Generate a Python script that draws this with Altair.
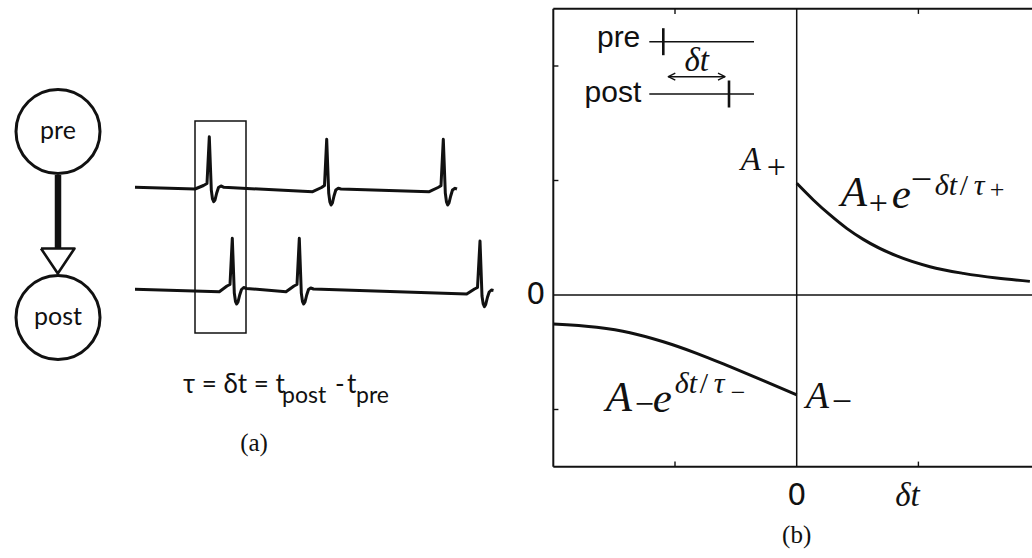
import altair as alt
import pandas as pd

W, H = 1032, 558
SERIF = "Liberation Serif"
SANS = "Liberation Sans"
HUMANIST = "Lato"
INK = "#111111"

# ---------------- panel (b): STDP learning window (plot units) ----------------
ltp_dt = [0.0, 0.137, 0.274, 0.411, 0.547, 0.822, 1.095, 1.369, 1.643, 1.916]
ltp_dw = [0.976, 0.830, 0.699, 0.582, 0.486, 0.341, 0.247, 0.189, 0.148, 0.119]
ltd_dt = [-2.0, -1.643, -1.370, -1.096, -0.822, -0.548, -0.274, 0.0]
ltd_dw = [-0.253, -0.282, -0.329, -0.408, -0.509, -0.626, -0.748, -0.873]
A_PLUS = ltp_dw[0]
A_MINUS = ltd_dw[-1]
x_lim = [-2.0, 2.0]
y_lim = [-1.5, 2.5]
x_ticks = [-1.0, 1.0]
y_ticks = [-1.0, 1.0, 2.0]

# ---------------- panel (a) schematic and inset (canvas units) ----------------
neuron_labels = ["pre", "post"]
neuron_cx = [58.0, 58.0]
neuron_cy = [131.5, 317.5]
synapse_shaft = [175.0, 248.5]           # y extent of the axon line
synapse_head_x = [41.0, 74.5, 57.8, 41.0]  # open arrow head outline
synapse_head_y = [248.5, 248.5, 273.5, 248.5]

pre_trace_x = [135, 195, 203.5, 207, 209.3, 211.3, 212.5, 213.7, 215, 216.7, 218.5, 221, 224,
               312.7, 321.5, 324.5, 326.7, 328.7, 329.9, 331.1, 332.4, 334, 335.8, 338.3, 341,
               429.3, 438, 441, 443.3, 445.3, 446.5, 447.7, 449, 450.7, 452.5, 455, 457]
pre_trace_y = [187.3, 189, 185.5, 183.5, 136.7, 190, 199, 201.7, 200, 193, 187.5, 186, 187.3,
               191.7, 187.5, 185.5, 139.3, 193, 202, 205, 203, 196, 190, 188.3, 189,
               191.7, 187.5, 185.8, 139.3, 193, 202, 205, 203, 196, 190, 188.3, 189]
post_trace_x = [135, 219.3, 227, 230, 232.3, 234.3, 235.5, 236.7, 238, 239.7, 241.5, 243.7, 246.5,
                286, 294, 297, 299.3, 301.3, 302.5, 303.7, 305, 306.7, 308.5, 310.7, 313.5,
                466.7, 474.5, 477.5, 480, 482, 483.2, 484.4, 485.7, 487.4, 489.2, 491.4, 493.5]
post_trace_y = [289.3, 291.7, 286, 284.5, 238.3, 293, 301.5, 304, 302, 295, 289.5, 287.5, 288.5,
                291.7, 286, 284.5, 238.3, 293, 301.5, 304, 302, 295, 289.5, 288, 289,
                294, 289, 287.5, 241, 296, 304, 306.7, 304.5, 297.5, 292, 290, 290.5]
window_box = [195.0, 121.0, 246.0, 333.0]   # x0, y0, x1, y1

inset_train_y = [41.7, 94.0]
inset_train_x = [649.3, 754.0]
inset_spike_x = [663.3, 729.0]
inset_spike_half = 13.5
inset_arrow_y = 76.7

# ---------------- scales ----------------
CX = alt.Scale(domain=[0, W], range=[0, W], nice=False, zero=False)
CY = alt.Scale(domain=[0, H], range=[0, H], nice=False, zero=False)
PX = alt.Scale(domain=x_lim, range=[553.3, 1040.1], nice=False, zero=False)
PY = alt.Scale(domain=y_lim, range=[466.75, 8.75], nice=False, zero=False)


def xy(sx, sy, x="x", y="y"):
    return dict(x=alt.X(f"{x}:Q", scale=sx, axis=None),
                y=alt.Y(f"{y}:Q", scale=sy, axis=None))


def polyline(xs, ys, sx, sy, width, **kw):
    df = pd.DataFrame({"x": xs, "y": ys, "i": list(range(len(xs)))})
    return alt.Chart(df).mark_line(color=INK, strokeWidth=width, strokeJoin="round", **kw).encode(
        order="i:Q", **xy(sx, sy))


def segments(x, y, x2, y2, sx, sy, width):
    df = pd.DataFrame({"x": x, "y": y, "x2": x2, "y2": y2})
    return alt.Chart(df).mark_rule(color=INK, strokeWidth=width).encode(
        x2=alt.X2("x2:Q"), y2=alt.Y2("y2:Q"), **xy(sx, sy))


def label(text, x, y, sx, sy, size, dx=0, dy=0, font=SERIF, style="normal",
          align="left", baseline="alphabetic"):
    df = pd.DataFrame({"x": [x], "y": [y], "t": [text]})
    return alt.Chart(df).mark_text(fontSize=size, dx=dx, dy=dy, font=font, fontStyle=style,
                                   align=align, baseline=baseline, color=INK).encode(
        text="t:N", **xy(sx, sy))


# ---------------- panel (a) ----------------
canvas = []
neurons = pd.DataFrame({"x": neuron_cx, "y": neuron_cy, "t": neuron_labels})
canvas.append(alt.Chart(neurons).mark_point(shape="circle", size=84 * 84, filled=False,
                                            color=INK, strokeWidth=3, opacity=1).encode(**xy(CX, CY)))
canvas.append(alt.Chart(neurons).mark_text(fontSize=25, font=HUMANIST, color=INK,
                                           baseline="middle", dy=-1).encode(text="t:N", **xy(CX, CY)))
canvas.append(segments([neuron_cx[0]], [synapse_shaft[0]], [neuron_cx[0]], [synapse_shaft[1]], CX, CY, 6.5))
canvas.append(polyline(synapse_head_x, synapse_head_y, CX, CY, 2.6))
canvas.append(polyline(pre_trace_x, pre_trace_y, CX, CY, 3.0))
canvas.append(polyline(post_trace_x, post_trace_y, CX, CY, 3.0))
box = pd.DataFrame({"x": [window_box[0]], "y": [window_box[1]], "x2": [window_box[2]], "y2": [window_box[3]]})
canvas.append(alt.Chart(box).mark_rect(fillOpacity=0, stroke=INK, strokeWidth=1.5).encode(
    x2=alt.X2("x2:Q"), y2=alt.Y2("y2:Q"), **xy(CX, CY)))

# caption formula  tau = delta t = t_post - t_pre
canvas.append(label("τ = δt = t", 183, 393, CX, CY, 26, font=HUMANIST))
canvas.append(label("post", 282, 403, CX, CY, 23, font=HUMANIST))
canvas.append(label("-", 335, 393, CX, CY, 26, font=HUMANIST))
canvas.append(label("t", 347, 393, CX, CY, 26, font=HUMANIST))
canvas.append(label("pre", 356, 403, CX, CY, 23, font=HUMANIST))
canvas.append(label("(a)", 254, 451, CX, CY, 25, align="center"))

# inset: pre/post spike trains with the timing difference
canvas.append(label("pre", inset_train_x[0] - 9, inset_train_y[0] + 5, CX, CY, 30, font=SANS, align="right"))
canvas.append(label("post", inset_train_x[0] - 8, inset_train_y[1] + 7.5, CX, CY, 30, font=SANS, align="right"))
canvas.append(segments([inset_train_x[0]] * 2, inset_train_y, [inset_train_x[1]] * 2, inset_train_y, CX, CY, 1.6))
canvas.append(segments(inset_spike_x,
                       [inset_train_y[0] - inset_spike_half, inset_train_y[1] - inset_spike_half],
                       inset_spike_x,
                       [inset_train_y[0] + inset_spike_half, inset_train_y[1] + inset_spike_half],
                       CX, CY, 2.6))
arrow_l, arrow_r = inset_spike_x[0] + 5, inset_spike_x[1] - 4
canvas.append(segments([arrow_l], [inset_arrow_y], [arrow_r], [inset_arrow_y], CX, CY, 1.4))
canvas.append(polyline([arrow_l + 7, arrow_l, arrow_l + 7],
                       [inset_arrow_y - 3.5, inset_arrow_y, inset_arrow_y + 3.5], CX, CY, 1.4))
canvas.append(polyline([arrow_r - 7, arrow_r, arrow_r - 7],
                       [inset_arrow_y - 3.5, inset_arrow_y, inset_arrow_y + 3.5], CX, CY, 1.4))
canvas.append(label("δt", (arrow_l + arrow_r) / 2, inset_arrow_y - 6, CX, CY, 33,
                    style="italic", align="center"))

# ---------------- panel (b) ----------------
plot = []
x0, x1 = x_lim
y0, y1 = y_lim
# frame (left, bottom, top) and the zero cross
plot.append(segments([x0, x0, x0], [y0, y0, y1], [x0, x1, x1], [y1, y0, y1], PX, PY, 2.0))
plot.append(segments([x0, 0.0], [0.0, y0], [x1, 0.0], [0.0, y1], PX, PY, 1.5))
# inward ticks
tx, ty = 0.042, 0.045
plot.append(segments([x0] * len(y_ticks), y_ticks, [x0 + tx] * len(y_ticks), y_ticks, PX, PY, 1.4))
plot.append(segments(x_ticks, [y0] * len(x_ticks), x_ticks, [y0 + ty] * len(x_ticks), PX, PY, 1.4))
plot.append(segments(x_ticks, [y1] * len(x_ticks), x_ticks, [y1 - ty] * len(x_ticks), PX, PY, 1.4))

# learning window branches
plot.append(polyline(ltp_dt, ltp_dw, PX, PY, 3.0, interpolate="monotone"))
plot.append(polyline(ltd_dt, ltd_dw, PX, PY, 3.0, interpolate="monotone"))

# tick labels and caption
plot.append(label("0", x0, 0.0, PX, PY, 30, dx=-8, font="DejaVu Sans", align="right", baseline="middle"))
plot.append(label("0", 0.0, y0, PX, PY, 30, dy=29, font="DejaVu Sans", align="center", baseline="middle"))
plot.append(label("δt", 1.0, y0, PX, PY, 33, dx=-11, dy=39, style="italic", align="center"))
plot.append(label("(b)", 0.0, y0, PX, PY, 25, dy=76, align="center"))

# A+ and A- markers
plot.append(label("A", 0.0, A_PLUS, PX, PY, 33, dx=-56, dy=-13, style="italic"))
plot.append(label("+", 0.0, A_PLUS, PX, PY, 34, dx=-30, dy=-5))
plot.append(label("A", 0.0, A_MINUS, PX, PY, 38, dx=9, dy=13, style="italic"))
plot.append(label("−", 0.0, A_MINUS, PX, PY, 36, dx=35, dy=18))

# A+ e^{-dt/tau+}
for t, dx, dy, size, style in [
    ("A", 44, 23, 43, "italic"),
    ("+", 72, 31, 34, "normal"),
    ("e", 95, 25, 43, "italic"),
    ("−", 114, 9, 38, "normal"),
    ("δ", 138, 11.7, 30, "italic"),
    ("t", 152, 11.7, 30, "italic"),
    ("/", 163, 11.7, 30, "normal"),
    ("τ", 177, 11.7, 30, "italic"),
    ("+", 193, 15, 26, "normal"),
]:
    plot.append(label(t, 0.0, A_PLUS, PX, PY, size, dx=dx, dy=dy, style=style))

# A- e^{dt/tau-}
for t, dx, dy, size, style in [
    ("A", -191, 15.7, 43, "italic"),
    ("−", -162, 20, 34, "normal"),
    ("e", -144, 16.7, 43, "italic"),
    ("δ", -122, -1.5, 30, "italic"),
    ("t", -108, -1.5, 30, "italic"),
    ("/", -97, -1.5, 30, "normal"),
    ("τ", -83, -1.5, 30, "italic"),
    ("−", -66, 6, 26, "normal"),
]:
    plot.append(label(t, 0.0, A_MINUS, PX, PY, size, dx=dx, dy=dy, style=style))

chart = alt.layer(alt.layer(*canvas), alt.layer(*plot)).resolve_scale(
    x="independent", y="independent"
).properties(
    width=W, height=H, padding=0, background="white",
    autosize=alt.AutoSizeParams(type="none"),
).configure_view(strokeWidth=0)

chart.save("out.html", embed_options={"renderer": "svg", "actions": False})
